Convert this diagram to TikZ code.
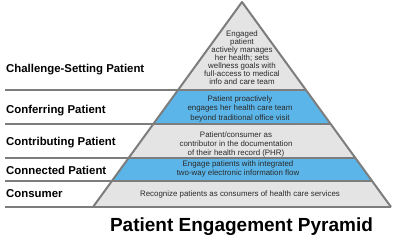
\documentclass[tikz,border=0pt]{standalone}
\usepackage{fontspec}
\setmainfont{Liberation Sans}
\definecolor{bandgray}{HTML}{E4E4E4}
\definecolor{bandblue}{HTML}{5BB5E8}
\definecolor{linegray}{HTML}{7D7D7D}
\definecolor{txt}{HTML}{2A2A2A}
\begin{document}
\begin{tikzpicture}[x=1pt,y=-1pt,
  sep/.style={draw=linegray,line width=2pt},
  lvl/.style={anchor=base west,inner sep=0pt,font=\fontsize{11.4}{13}\selectfont\bfseries,text=black},
  desc/.style={align=center,inner sep=0pt,text=txt},
]
\useasboundingbox (0,0) rectangle (400,242);
\fill[white] (0,0) rectangle (400,242);
% coordinates
\coordinate (apex) at (242,2);
\coordinate (l1) at (178.0,90);  \coordinate (r1) at (306.0,90);
\coordinate (l2) at (153.3,124); \coordinate (r2) at (330.7,124);
\coordinate (l3) at (128.6,158); \coordinate (r3) at (355.4,158);
\coordinate (l4) at (111.9,181); \coordinate (r4) at (372.1,181);
\coordinate (l5) at (93,207);    \coordinate (r5) at (391,207);
\coordinate (s1) at (5,90);
\coordinate (s2) at (5,124);
\coordinate (s3) at (5,158);
\coordinate (s4) at (5,181);
\coordinate (s5) at (5,207);
% bands
\fill[bandgray] (apex) -- (l1) -- (r1) -- cycle;
\fill[bandblue] (l1) -- (l2) -- (r2) -- (r1) -- cycle;
\fill[bandgray] (l2) -- (l3) -- (r3) -- (r2) -- cycle;
\fill[bandblue] (l3) -- (l4) -- (r4) -- (r3) -- cycle;
\fill[bandgray] (l4) -- (l5) -- (r5) -- (r4) -- cycle;
% lines
\draw[sep] (s1) -- (r1);
\draw[sep] (s2) -- (r2);
\draw[sep] (s3) -- (r3);
\draw[sep] (s4) -- (r4);
\draw[sep] (s5) -- (r5);
\draw[sep,line join=round] (l5) -- (apex) -- (r5);
% pyramid texts
\node[desc,font=\fontsize{7.9}{8.1}\selectfont] (t1) at (242,57.5)
  {Engaged\\patient\\actively manages\\her health; sets\\wellness goals with\\full-access to medical\\info and care team};
\node[desc,font=\fontsize{7.9}{9.5}\selectfont] (t2) at (240,108.7)
  {Patient proactively\\engages her health care team\\beyond traditional office visit};
\node[desc,font=\fontsize{7.9}{9}\selectfont] (t3) at (236,144)
  {Patient/consumer as\\contributor in the documentation\\of their health record (PHR)};
\node[desc,font=\fontsize{7.9}{8.3}\selectfont] (t4) at (238,169)
  {Engage patients with integrated\\two-way electronic information flow};
\node[desc,font=\fontsize{7.9}{9}\selectfont] (t5) at (240,194)
  {Recognize patients as consumers of health care services};
% left labels
\node[lvl] (n1) at (6,72.3) {Challenge-Setting Patient};
\node[lvl] (n2) at (6,113) {Conferring Patient};
\node[lvl] (n3) at (6,145) {Contributing Patient};
\node[lvl] (n4) at (6,174) {Connected Patient};
\node[lvl] (n5) at (6,197.5) {Consumer};
% title
\node[anchor=base,inner sep=0pt,font=\fontsize{19}{22}\selectfont\bfseries] (title) at (241.5,231) {Patient Engagement Pyramid};
\end{tikzpicture}
\end{document}
